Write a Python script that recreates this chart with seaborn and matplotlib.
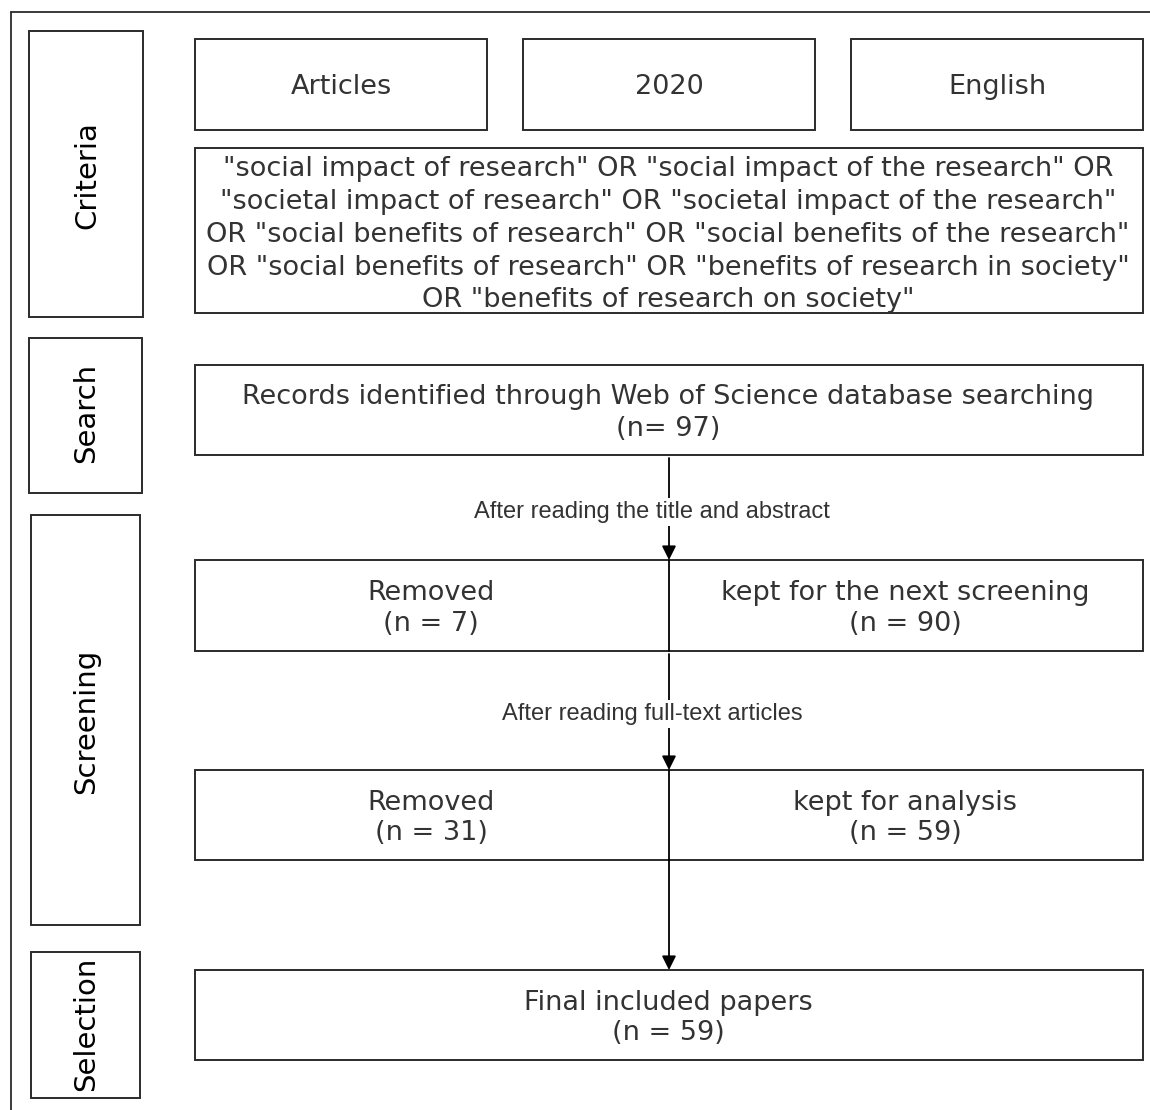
"""
PRISMA-style flow diagram for the literature review on social impact of research.
"""

import matplotlib.pyplot as plt
import matplotlib.patches as patches
import seaborn as sns

# Diagram content
stage_labels = ["Criteria", "Search", "Screening", "Selection"]
criteria_tags = ["Articles", "2020", "English"]
query_lines = [
    '"social impact of research" OR "social impact of the research" OR',
    '"societal impact of research" OR "societal impact of the research"',
    'OR "social benefits of research" OR "social benefits of the research"',
    'OR "social benefits of research" OR "benefits of research in society"',
    'OR "benefits of research on society"',
]
records_label = "Records identified through Web of Science database searching"
records_n = 97
step_labels = ["After reading the title and abstract", "After reading full-text articles"]
removed_n = [7, 31]
kept_labels = ["kept for the next screening", "kept for analysis"]
kept_n = [90, 59]
final_label = "Final included papers"
final_n = 59

# Layout in pixel units (figure is 1150 x 1110)
W, H = 1150, 1110
stage_boxes = [(29, 31, 143, 317), (29, 338, 142, 493), (31, 515, 140, 925), (31, 952, 140, 1098)]
stage_text_y = [175, 413, 721, 1024]
tag_boxes = [(195, 487), (523, 815), (851, 1143)]
tag_y = (39, 130)
query_box = (195, 148, 1143, 313)
query_y = [169, 202, 235, 268, 300]
records_box = (195, 365, 1143, 455)
split_boxes = [(560, 651), (770, 860)]
final_box = (195, 970, 1143, 1060)
flow_x = 669
label_y = [512, 714]

EDGE = "#2b2b2b"
TEXT = "#333333"
MAIN_FS = 19.5


def draw_box(ax, x0, y0, x1, y1):
    ax.add_patch(patches.Rectangle((x0, y0), x1 - x0, y1 - y0, fill=False,
                                   edgecolor=EDGE, linewidth=1.4))


def arrow(ax, y0, y1):
    ax.annotate("", xy=(flow_x, y1), xytext=(flow_x, y0),
                arrowprops=dict(arrowstyle="-|>,head_length=0.6,head_width=0.3",
                                color="black", lw=1.3, mutation_scale=14,
                                shrinkA=0, shrinkB=0))


def two_lines(ax, x, y, text):
    ax.text(x, y, text, ha="center", va="center", fontsize=MAIN_FS,
            color=TEXT, linespacing=1.25)


def main():
    sns.set_style("white")
    plt.rcParams["font.family"] = ["DejaVu Sans"]

    fig = plt.figure(figsize=(W / 100, H / 100), dpi=100)
    ax = fig.add_axes([0, 0, 1, 1])
    ax.set_xlim(0, W)
    ax.set_ylim(H, 0)
    ax.axis("off")

    # outer frame (top and left only)
    ax.plot([11, W], [12, 12], color=EDGE, lw=1.3)
    ax.plot([11, 11], [12, H], color=EDGE, lw=1.3)

    # stage labels on the left
    for label, (x0, y0, x1, y1), ty in zip(stage_labels, stage_boxes, stage_text_y):
        draw_box(ax, x0, y0, x1, y1)
        ax.text((x0 + x1) / 2 + 1, ty, label, rotation=90, ha="center",
                va="center", fontsize=21, color="black")

    # criteria tags
    for tag, (x0, x1) in zip(criteria_tags, tag_boxes):
        draw_box(ax, x0, tag_y[0], x1, tag_y[1])
        ax.text((x0 + x1) / 2, sum(tag_y) / 2 + 3, tag, ha="center", va="center",
                fontsize=MAIN_FS, color=TEXT)

    # search query
    draw_box(ax, *query_box)
    for line, y in zip(query_lines, query_y):
        ax.text(668, y, line, ha="center", va="center", fontsize=MAIN_FS, color=TEXT)

    # records identified
    draw_box(ax, *records_box)
    two_lines(ax, 668, 413, f"{records_label}\n(n= {records_n})")

    # screening steps
    prev_bottom = records_box[3]
    for i, (y0, y1) in enumerate(split_boxes):
        arrow(ax, prev_bottom + 3, y0)
        ax.text(652, label_y[i], step_labels[i], ha="center", va="center",
                fontsize=17, color=TEXT, family=["Liberation Sans"],
                bbox=dict(facecolor="white", edgecolor="none", pad=2))
        draw_box(ax, 195, y0, 1143, y1)
        ax.plot([flow_x, flow_x], [y0, y1], color="black", lw=1.3)
        mid = (y0 + y1) / 2 + 3
        two_lines(ax, 431, mid, f"Removed\n(n = {removed_n[i]})")
        two_lines(ax, 905, mid, f"{kept_labels[i]}\n(n = {kept_n[i]})")
        prev_bottom = y1

    # final selection
    arrow(ax, prev_bottom, final_box[1])
    draw_box(ax, *final_box)
    two_lines(ax, 668, (final_box[1] + final_box[3]) / 2 + 3,
              f"{final_label}\n(n = {final_n})")

    fig.savefig("out.png", dpi=100)


if __name__ == "__main__":
    main()
